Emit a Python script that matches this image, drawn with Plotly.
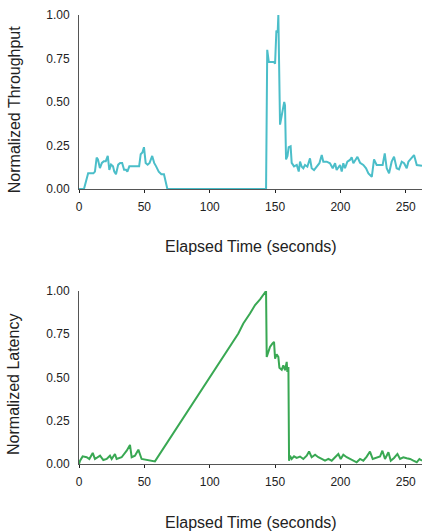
import plotly.graph_objects as go

# ---- Throughput (top panel) ----
thr_t = [0, 3.8, 7, 9, 11, 12.2, 13.5, 14.5, 16, 17.5, 19, 20.5, 22, 23.2, 24.5, 26, 27, 28.3,
         30, 31.5, 33, 34.5, 36, 37, 38.5, 40, 42, 44, 46, 47.2, 48.5, 49.7, 51, 52.5, 54, 56,
         57.5, 59, 61, 63, 65, 67.6,
         143.1, 144, 145.2, 147, 149, 150, 151, 152, 152.5, 153.8, 155, 157, 157.6, 158.4, 159.5,
         160.4, 161.9, 162.7, 164.5, 166.6, 168.1, 169.1, 170.4, 171.6, 172.9, 174.7, 176.7,
         178.0, 179.8, 181.8, 183.9, 185.7, 186.9, 189.5, 192.0, 194.1, 195.9, 197.1, 199.7,
         201.0, 202.2, 203.5, 205.3, 207.3, 208.6, 209.9, 211.4, 213.0, 215.0, 217.5, 219.6,
         221.4, 224.0, 225.7, 227.7, 230.3, 232.3, 233.9, 235.4, 237.2, 239.2, 241.0, 243.0,
         244.8, 246.9, 248.7, 250.7, 252.0, 254.5, 256.3, 258.4, 262.4]
thr_v = [0, 0, 0.09, 0.09, 0.09, 0.10, 0.18, 0.17, 0.12, 0.15, 0.16, 0.16, 0.19, 0.11, 0.14, 0.13,
         0.10, 0.085, 0.14, 0.15, 0.15, 0.11, 0.11, 0.10, 0.13, 0.13, 0.13, 0.13, 0.13, 0.20, 0.21,
         0.24, 0.15, 0.14, 0.15, 0.19, 0.15, 0.13, 0.10, 0.085, 0.085, 0.0,
         0.0, 0.80, 0.73, 0.73, 0.73, 0.72, 0.91, 0.90, 1.00, 0.37, 0.425, 0.50, 0.48, 0.17, 0.19,
         0.24, 0.245, 0.15, 0.13, 0.138, 0.10, 0.157, 0.128, 0.119, 0.138, 0.128, 0.176,
         0.119, 0.109, 0.128, 0.148, 0.195, 0.157, 0.157, 0.148, 0.119, 0.148, 0.109, 0.138,
         0.10, 0.148, 0.119, 0.157, 0.167, 0.182, 0.148, 0.167, 0.185, 0.151, 0.138, 0.119,
         0.09, 0.07, 0.17, 0.138, 0.138, 0.138, 0.205, 0.119, 0.09, 0.157, 0.186, 0.119,
         0.113, 0.157, 0.148, 0.119, 0.157, 0.176, 0.195, 0.138, 0.134]

# ---- Latency (bottom panel) ----
lat_t = [0, 0.8, 2.8, 5.9, 7.9, 10.5, 12.2, 16.1, 18.6, 21.2, 23.7, 25.0, 27.5, 28.8, 32.6, 36.5,
         39.0, 40.3, 42.8, 45.4, 47.9, 50.5, 53.0, 55.6, 58.1,
         121.9, 123.7, 125.7, 130.8, 134.7, 138.5, 142.3, 143.1,
         143.6, 144.9, 146.1, 147.9, 149.2, 150.0, 151.2, 152.5, 153.3, 155.1, 156.3, 157.6,
         158.9, 159.4, 160.2, 160.7,
         161.4, 162.7, 164.5, 166.5, 169.1, 171.6, 174.2, 176.0, 178.0, 180.6, 183.1, 185.7,
         188.2, 190.8, 193.3, 195.9, 198.4, 200.2, 202.2, 204.8, 207.3, 209.9, 212.4, 215.0,
         217.5, 220.1, 222.6, 224.7, 227.7, 230.3, 232.1, 234.1, 236.7, 238.5, 241.0, 243.6,
         245.6, 248.1, 250.7, 253.3, 255.8, 258.4, 260.4, 262.4]
lat_v = [0, 0.019, 0.044, 0.039, 0.029, 0.064, 0.029, 0.048, 0.023, 0.029, 0.048, 0.029, 0.058,
         0.029, 0.039, 0.077, 0.11, 0.039, 0.048, 0.083, 0.029, 0.025, 0.019, 0.015, 0.015,
         0.754, 0.783, 0.812, 0.870, 0.919, 0.952, 0.996, 1.0,
         0.619, 0.658, 0.677, 0.696, 0.706, 0.609, 0.634, 0.619, 0.557, 0.545, 0.571, 0.542,
         0.59, 0.532, 0.561, 0.019,
         0.048, 0.029, 0.044, 0.035, 0.043, 0.029, 0.048, 0.072, 0.039, 0.054, 0.039, 0.029,
         0.019, 0.029, 0.019, 0.039, 0.058, 0.029, 0.054, 0.039, 0.029, 0.019, 0.01, 0.029,
         0.019, 0.043, 0.072, 0.029, 0.039, 0.043, 0.077, 0.029, 0.068, 0.019, 0.035, 0.058,
         0.029, 0.039, 0.033, 0.029, 0.019, 0.01, 0.029, 0.019]

x_ticks = [0, 50, 100, 150, 200, 250]
y_ticks = [0, 0.25, 0.5, 0.75, 1.0]
y_labels = ["0.00", "0.25", "0.50", "0.75", "1.00"]

TEAL = "#4bbec9"
GREEN = "#39a853"
AXIS = "#555555"
FONT = "Liberation Sans, Arial, sans-serif"

fig = go.Figure()
fig.add_trace(go.Scatter(x=thr_t, y=thr_v, mode="lines", line=dict(color=TEAL, width=2),
                         xaxis="x", yaxis="y", showlegend=False, hoverinfo="skip"))
fig.add_trace(go.Scatter(x=lat_t, y=lat_v, mode="lines", line=dict(color=GREEN, width=2),
                         xaxis="x2", yaxis="y2", showlegend=False, hoverinfo="skip"))

xcommon = dict(range=[0, 262.4], tickvals=x_ticks, showline=True, linecolor=AXIS, linewidth=1,
               ticks="outside", ticklen=3, tickcolor="#222", tickwidth=1, showgrid=False,
               zeroline=False, tickfont=dict(size=12, color="#222", family=FONT),
               ticklabelstandoff=4, automargin=False)
ycommon = dict(range=[0, 1.0], tickvals=y_ticks, ticktext=y_labels, showline=True,
               linecolor=AXIS, linewidth=1, ticks="", showgrid=False, zeroline=False,
               tickfont=dict(size=12, color="#222", family=FONT), ticklabelstandoff=6,
               automargin=False)

fig.update_layout(
    width=422, height=531,
    margin=dict(l=79, r=0, t=15, b=67, autoexpand=False),
    paper_bgcolor="white", plot_bgcolor="white",
    font=dict(family=FONT, color="#222"),
    xaxis=dict(domain=[0, 1], anchor="y", **xcommon),
    yaxis=dict(domain=[0.6125, 1.0], anchor="x", **ycommon),
    xaxis2=dict(domain=[0, 1], anchor="y2", **xcommon),
    yaxis2=dict(domain=[0.0, 0.3853], anchor="x2", **ycommon),
    annotations=[
        dict(text="Elapsed Time (seconds)", xref="paper", yref="paper", x=0.5, y=0.484,
             xanchor="center", yanchor="middle", showarrow=False, font=dict(size=16)),
        dict(text="Elapsed Time (seconds)", xref="paper", yref="paper", x=0.5, y=-0.131,
             xanchor="center", yanchor="middle", showarrow=False, font=dict(size=16)),
        dict(text="Normalized Throughput", xref="paper", yref="paper", x=-0.1895, y=0.788,
             xanchor="center", yanchor="middle", textangle=-90, showarrow=False,
             font=dict(size=16)),
        dict(text="Normalized Latency", xref="paper", yref="paper", x=-0.1895, y=0.176,
             xanchor="center", yanchor="middle", textangle=-90, showarrow=False,
             font=dict(size=16)),
    ],
)

fig.write_html("out.html", config={"displayModeBar": False},
               post_script="document.body.style.margin='0';document.body.style.overflow='hidden';")
